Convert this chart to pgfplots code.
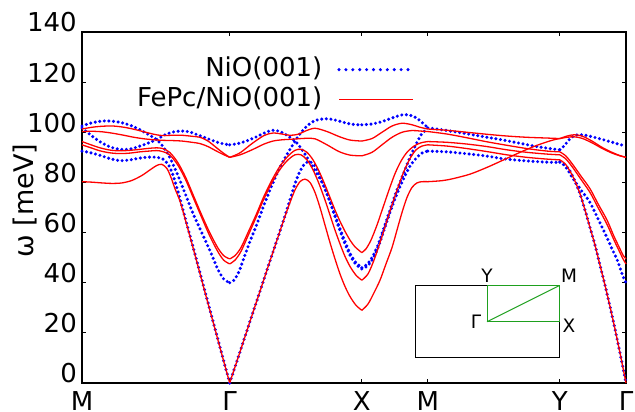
\documentclass[border=0pt]{standalone}
\usepackage{fontspec}
\setmainfont{DejaVu Sans}
\usepackage{pgfplots}
\pgfplotsset{compat=1.18}
\definecolor{bzgreen}{RGB}{30,160,30}
\pgfplotsset{
  nio/.style={blue, line width=3.4pt, line cap=round, dash pattern=on 0pt off 4.6pt, smooth, tension=0.5, forget plot},
  fepc/.style={red, line width=1.3pt, smooth, tension=0.5, forget plot},
}
\begin{document}
\begin{tikzpicture}
\useasboundingbox (-82pt,-29pt) rectangle (553pt,383pt);
\begin{axis}[
  scale only axis, width=544pt, height=351pt,
  xmin=0, xmax=544, ymin=0, ymax=140,
  xtick={0,147.7,279.8,345.8,477.9,544},
  xticklabels={M,Γ,X,M,Y,Γ},
  ytick={0,20,...,140},
  /pgf/number format/assume math mode=true,
  ticklabel style={font=\fontsize{26}{31}\selectfont},
  xticklabel style={anchor=base, inner sep=0pt, yshift=-28pt},
  yticklabel style={anchor=base east, inner sep=0pt, xshift=-5pt},
  ylabel={ω [meV]},
  every axis y label/.style={at={(rel axis cs:-0.090,0.52)}, rotate=90, anchor=base, font=\fontsize{27}{32}\selectfont},
  major tick length=4pt,
  tick style={black, line width=1pt},
  axis line style={line width=1.2pt},
  clip=false,
  legend cell align=right,
  legend plot pos=right,
  legend image code/.code={\draw[#1] (0pt,0pt) -- (74pt,0pt);},
  legend style={draw=none, fill=none, at={(rel axis cs:0.612,0.926)}, anchor=north east,
    inner sep=0pt, row sep=7pt, column sep=15pt, font=\fontsize{26}{31}\selectfont,
    nodes={inner sep=0pt, text height=18pt, text depth=5pt}},
]
\addlegendimage{blue, line width=3.4pt, line cap=round, dash pattern=on 0pt off 6.9pt}
\addlegendentry{NiO(001)}
\addlegendimage{red, line width=1.3pt}
\addlegendentry{FePc/NiO(001)}

% ---- NiO(001): M -> Gamma
\addplot[nio] coordinates {(0,102.5) (10,103.8) (21,104.5) (31,104.4) (41,103.7) (50,102.5) (58,101) (67,99) (74.7,97) (80.7,94.5) (87.7,90) (95.7,83) (103.7,75) (111.7,67) (119.7,60) (127.7,53) (135.7,45.5) (141.7,41.5) (147.7,40)};
\addplot[nio] coordinates {(0,101.7) (9,98.8) (18,96.2) (28,94.2) (38,93.2) (48,93.3) (58,94.5) (67,95.8) (75,97.2) (83,99) (91,100.1) (100,100.5) (108,100.1) (118,98.6) (128,97.1) (138,95.7) (147.7,95)};
\addplot[nio] coordinates {(0,92.5) (9,91.8) (18,90.8) (28,89.5) (38,88.7) (48,89) (58,89.7) (67,90.1) (75,90) (81,89.3) (86,87.3) (90,84) (94,79) (98,73.5) (104.5,63.9) (111,54.3) (118,43.9) (125,33.5) (132,23.2) (138,14.3) (143,6.9) (147.7,0)};
% Gamma -> X
\addplot[nio] coordinates {(147.7,40) (152,41) (157,44.5) (162,50) (168,56.5) (175,63.5) (182,71) (189,78) (196,84.3) (203,89.8) (210,94.5) (216,98.3) (222,101.3) (228,103.5) (234,104.8) (241,105.3) (248,105.3) (256,104.6) (264,103.7) (272,103.1) (279.8,103)};
\addplot[nio] coordinates {(147.7,95) (156,95.5) (165,96.6) (175,98.3) (184,100) (191,100.8) (198,100.3) (205,98.8) (213,96.5) (218,94.2) (223,91.3) (228,88) (234,84) (240,80) (246,74.5) (252,68) (258,61.5) (264,55.5) (269,51) (274,48) (279.8,46)};
\addplot[nio] coordinates {(147.7,0) (155,8.8) (163,18.5) (171,28.2) (179,37.8) (187,47.5) (195,57) (202,65.5) (208,73) (213,79.5) (218,84.5) (223,87.5) (228,88.3) (233,86.5) (238,82.5) (244,76.5) (250,70) (256,63) (262,56.5) (268,51) (274,47.3) (279.8,45.5)};
% X -> M
\addplot[nio] coordinates {(279.8,103) (288,103.2) (296,103.8) (304,104.8) (312,106) (321,107) (328,106.8) (334,105.8) (339,104.3) (343,102.8) (345.8,102)};
\addplot[nio] coordinates {(279.8,45.5) (285,46.5) (290,49) (296,54) (302,61) (308,68) (314,74.5) (321,81) (328,86.5) (335,90) (340,91.7) (345.8,92.5)};
\addplot[nio] coordinates {(279.8,46) (285,47.3) (290,50) (296,55) (302,62) (308,69) (314,76) (321,83) (328,90) (335,96) (340,99.5) (345.8,101.5)};
% M -> Y
\addplot[nio] coordinates {(345.8,101.8) (360,101) (371,100.3) (388,99.2) (405,98) (420,97) (438,95.6) (455,94.3) (470,93.4) (477.9,93)};
\addplot[nio] coordinates {(345.8,92.5) (360,92.3) (371,92) (388,91.3) (405,90.5) (420,89.5) (438,88.8) (455,88.3) (470,88) (477.9,88)};
% Y -> Gamma
\addplot[nio] coordinates {(477.9,93) (482,94.5) (487,97) (492,98.6) (498,99) (505,98.7) (516,97.6) (525,96.6) (533,95.7) (539,95) (544,94.6)};
\addplot[nio] coordinates {(477.9,88.3) (484,86) (491,81.5) (499,77) (508,72) (516,65.5) (525,58) (530,53.5) (535,49.3) (538,46) (541,42.5) (544,40)};
\addplot[nio] coordinates {(477.9,88) (483,87) (488,84.5) (493,80.5) (498,75.5) (503,69) (508,62) (513,55) (518,47) (523,39) (528,30.5) (533,21.5) (538,12) (544,0)};

% ---- FePc/NiO(001): M -> Gamma
\addplot[fepc] coordinates {(0,80.3) (10,80.1) (20,79.8) (30,79.6) (40,79.8) (50,80.8) (60,82.8) (68,85) (75,86.8) (80,87.2) (85,85.5) (89,82) (93,77.5) (98,72.5) (104.5,63.4) (111,54) (118,43.6) (125,33.2) (132,23) (138,14.1) (143,6.8) (147.7,0)};
\addplot[fepc] coordinates {(0,96.3) (9,95) (18,93.8) (28,92.9) (38,92.6) (48,92.8) (58,93.2) (67,93.6) (74.7,93.8) (80.7,93.5) (87.7,92) (95.7,88) (103.7,82) (111.7,74.5) (119.7,67) (127.7,60) (135.7,54) (141.7,50.8) (147.7,49.5)};
\addplot[fepc] coordinates {(0,95) (9,93.8) (18,92.6) (28,91.8) (38,91.5) (48,91.7) (58,92.2) (67,92.5) (74.7,92.7) (80.7,92.3) (87.7,91) (95.7,87) (103.7,81) (111.7,73.5) (119.7,66) (127.7,58.7) (135.7,52.5) (141.7,49) (147.7,47.5)};
\addplot[fepc] coordinates {(0,101.3) (10,102) (20,102.4) (31,102.5) (42,102) (52,101.2) (62,100.2) (72,99.2) (80,98.7) (90,98.8) (100,98.8) (110,98.4) (118,98) (126,96.5) (134,94) (141,91.8) (147.7,90)};
\addplot[fepc] coordinates {(0,100.3) (10,100.4) (20,100.2) (31,99.6) (42,98.8) (52,98) (62,97.4) (72,97) (80,96.8) (90,96.7) (100,96.5) (110,96) (118,95.5) (126,94.3) (134,92.6) (141,91.2) (147.7,90)};
% Gamma -> X
\addplot[fepc] coordinates {(147.7,0) (155,8.8) (163,18.5) (171,28.2) (179,37.8) (187,47.5) (195,57) (202,65.3) (208,72) (213,77) (218,80.3) (223,81.3) (228,80) (233,76) (238,70) (243,63) (248,56) (253,49.5) (258,43.5) (263,38.5) (268,34.5) (274,31) (279.8,29)};
\addplot[fepc] coordinates {(147.7,49.5) (153,50.8) (159,54) (166,60) (174,67) (182,74.5) (190,81) (198,86.5) (206,90.5) (213,92.8) (219,93.2) (225,92) (231,89) (237,84.5) (243,79) (248,74) (253,69) (258,64.5) (263,60.5) (268,57) (273,54.3) (279.8,52)};
\addplot[fepc] coordinates {(147.7,47.5) (153,49) (159,52.5) (166,58.7) (174,66) (182,73.5) (190,80) (198,85.2) (206,89) (213,91) (219,91) (225,89) (231,85) (237,79.5) (243,73) (248,67) (253,61) (258,55.5) (263,50.5) (268,46.5) (274,43) (279.8,41)};
\addplot[fepc] coordinates {(147.7,90) (158,91.8) (170,95.5) (182,98.7) (191,99.7) (200,99.3) (208,98.8) (216,99.2) (224,100.6) (233,101.6) (245,100.3) (257,98.3) (268,96.9) (279.8,96.5)};
\addplot[fepc] coordinates {(147.7,90) (158,91) (170,93) (182,95.3) (191,96.5) (200,97) (208,97.2) (216,97.4) (224,97.6) (233,97.4) (245,95) (257,92.3) (268,90.9) (279.8,90.6)};
% X -> M
\addplot[fepc] coordinates {(279.8,29) (286,31.5) (292,36) (298,41) (304,47.5) (310,54) (315,61) (320,68) (325,74) (330,78) (335,79.8) (340,80.3) (345.8,80.3)};
\addplot[fepc] coordinates {(279.8,52) (284,53.5) (289,57) (295,63) (301,70) (307,77) (313,83.5) (319,88.5) (325,92) (332,94.5) (339,95.8) (345.8,96.3)};
\addplot[fepc] coordinates {(279.8,41) (286,43.5) (292,49) (298,56) (304,63.5) (310,71) (316,78) (322,84.5) (328,89.5) (334,93) (340,94.5) (345.8,95)};
\addplot[fepc] coordinates {(279.8,96.5) (290,97.5) (300,100) (310,102.5) (320,103.6) (330,103) (338,102) (345.8,101.3)};
\addplot[fepc] coordinates {(279.8,90.6) (290,92) (300,95) (310,98) (320,100) (330,100.7) (338,100.5) (345.8,100.3)};
% M -> Y
\addplot[fepc] coordinates {(345.8,101.3) (365,100.8) (385,100) (405,99.2) (425,98.5) (445,98) (465,97.7) (477.9,97.5)};
\addplot[fepc] coordinates {(345.8,100.3) (365,99.3) (385,97.8) (405,96.2) (425,94.8) (445,93.5) (465,92.5) (477.9,92.2)};
\addplot[fepc] coordinates {(345.8,96.3) (365,96) (385,95.3) (405,94.3) (425,93) (445,92) (465,91.3) (477.9,91)};
\addplot[fepc] coordinates {(345.8,95) (365,94.5) (385,93.5) (405,92.3) (425,91) (445,90) (465,89.3) (477.9,89)};
\addplot[fepc] coordinates {(345.8,80.3) (360,80.7) (371,81.5) (388,83.3) (405,86) (420,88.7) (438,92) (455,94.8) (470,96.8) (477.9,97.5)};
% Y -> Gamma
\addplot[fepc] coordinates {(477.9,97.5) (485,98.5) (492,99) (500,98.5) (510,96.5) (520,94) (530,92) (538,90.7) (544,90)};
\addplot[fepc] coordinates {(477.9,97.5) (485,98) (492,98.2) (500,97.6) (510,95.8) (520,93.6) (530,91.7) (538,90.6) (544,90)};
\addplot[fepc] coordinates {(477.9,92.2) (484,90.5) (491,87) (499,82.5) (508,77.5) (516,71.5) (525,65) (532,58.5) (538,53.5) (541,51) (544,49.5)};
\addplot[fepc] coordinates {(477.9,91) (484,89.3) (491,85.8) (499,81.2) (508,76) (516,70) (525,63.3) (532,57) (538,52) (541,49.5) (544,47.5)};
\addplot[fepc] coordinates {(477.9,89) (483,87.5) (488,84.5) (493,80.5) (498,75.5) (503,69) (508,62) (513,55) (518,47) (523,39) (528,30.5) (533,21.5) (538,12) (544,0)};

% inset: surface Brillouin zone
\draw[black, line width=1pt] (axis cs:333,10.1) rectangle (axis cs:477,38.8);
\draw[bzgreen, line width=1pt] (axis cs:405,24.45) rectangle (axis cs:477,38.8);
\draw[bzgreen, line width=1pt] (axis cs:405,24.45) -- (axis cs:477,38.8);
\begin{scope}[font=\fontsize{18.5}{22}\selectfont]
\node at (axis cs:405,42.7) {Y};
\node at (axis cs:487,42.7) {M};
\node at (axis cs:394,24.3) {Γ};
\node at (axis cs:487,22.7) {X};
\end{scope}
\end{axis}
\end{tikzpicture}
\end{document}
